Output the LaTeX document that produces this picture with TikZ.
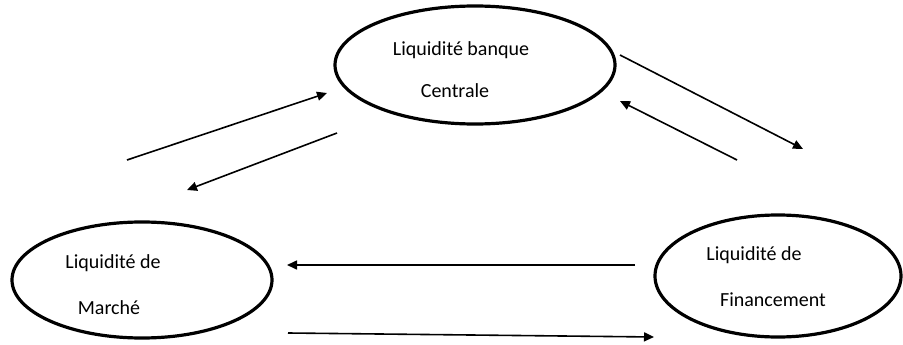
\documentclass[tikz,border=0pt]{standalone}
\usepackage{fontspec}
\setmainfont{Carlito}
\usetikzlibrary{shapes.geometric,arrows.meta}
\begin{document}
\begin{tikzpicture}[x=1pt,y=-1pt,
  bubble/.style={draw=black, line width=3.2pt, ellipse, inner sep=0pt},
  lbl/.style={inner sep=0pt, font=\fontsize{20}{24}\selectfont},
  flow/.style={line width=1.6pt, -{Triangle[length=10pt,width=9pt]}}]
\useasboundingbox (0,0) rectangle (903,345);

% the three liquidity bubbles
\node[bubble, minimum width=280pt, minimum height=118pt] (bc) at (475,65) {};
\node[bubble, minimum width=260pt, minimum height=116pt] (lm) at (142,280) {};
\node[bubble, minimum width=246pt, minimum height=122pt] (lf) at (778,276) {};

% their labels
\node[lbl] (bc1) at (461,50) {Liquidité banque};
\node[lbl] (bc2) at (455,91) {Centrale};
\node[lbl] (lm1) at (113,263) {Liquidité de};
\node[lbl] (lm2) at (109,308) {Marché};
\node[lbl] (lf1) at (754,255) {Liquidité de};
\node[lbl] (lf2) at (773,300) {Financement};

% free ends of the flows
\coordinate (a1s) at (127,160); \coordinate (a1e) at (327,93);
\coordinate (a2s) at (337,133); \coordinate (a2e) at (187,190);
\coordinate (a3s) at (620,55);  \coordinate (a3e) at (803,149);
\coordinate (a4s) at (737,160); \coordinate (a4e) at (620,101);
\coordinate (a5s) at (635,265); \coordinate (a5e) at (287,265);
\coordinate (a6s) at (288,333); \coordinate (a6e) at (654,337);

\draw[flow] (a1s) -- (a1e);
\draw[flow] (a2s) -- (a2e);
\draw[flow] (a3s) -- (a3e);
\draw[flow] (a4s) -- (a4e);
\draw[flow] (a5s) -- (a5e);
\draw[flow] (a6s) -- (a6e);
\end{tikzpicture}
\end{document}
